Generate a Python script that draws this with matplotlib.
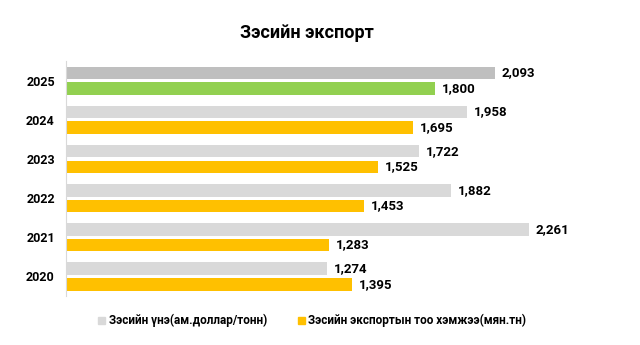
import matplotlib
matplotlib.use("Agg")
import matplotlib.pyplot as plt
from matplotlib import font_manager
from matplotlib.patches import Patch

names = set(f.name for f in font_manager.fontManager.ttflist)
if "Liberation Sans Narrow" in names:
    plt.rcParams['font.family'] = ['Liberation Sans Narrow', 'DejaVu Sans']
else:
    plt.rcParams['font.family'] = ['Roboto', 'DejaVu Sans']

years = ['2020', '2021', '2022', '2023', '2024', '2025']
price = [1274, 2261, 1882, 1722, 1958, 2093]
volume = [1395, 1283, 1453, 1525, 1695, 1800]
price_colors = ['#D9D9D9'] * 5 + ['#BFBFBF']
volume_colors = ['#FFC000'] * 5 + ['#92D050']

fig = plt.figure(figsize=(6.4, 3.45), dpi=100)
ax = fig.add_axes([0.1031, 0.142, 0.848, 0.681])

pos = range(len(years))
b1 = ax.barh([p + 0.2 for p in pos], price, height=0.32, color=price_colors)
b2 = ax.barh([p - 0.2 for p in pos], volume, height=0.32, color=volume_colors)
ax.bar_label(b1, fmt='{:,.0f}', padding=5, fontsize=9.5, fontweight='bold')
ax.bar_label(b2, fmt='{:,.0f}', padding=5, fontsize=9.5, fontweight='bold')

ax.set_xlim(0, 2650)
ax.set_ylim(-0.5, 5.5)
ax.set_yticks(list(pos))
ax.set_yticklabels(years, fontsize=9, fontweight='bold')
ax.tick_params(axis='y', length=0, pad=8)
ax.set_xticks([])
for s in ['top', 'right', 'bottom']:
    ax.spines[s].set_visible(False)
ax.spines['left'].set_color('#D9D9D9')

fig.text(0.48, 0.904, 'Зэсийн экспорт', ha='center', va='center',
         fontsize=13, fontweight='bold')

handles = [Patch(color='#D9D9D9', label='Зэсийн үнэ(ам.доллар/тонн)'),
           Patch(color='#FFC000', label='Зэсийн экспортын тоо хэмжээ(мян.тн)')]
fig.legend(handles=handles, loc='center', bbox_to_anchor=(0.488, 0.07), ncol=2,
           frameon=False, handlelength=0.6, handleheight=0.6, handletextpad=0.3,
           columnspacing=2.6, prop={'size': 8.5, 'weight': 'bold'})

fig.savefig('out.png', dpi=100)
